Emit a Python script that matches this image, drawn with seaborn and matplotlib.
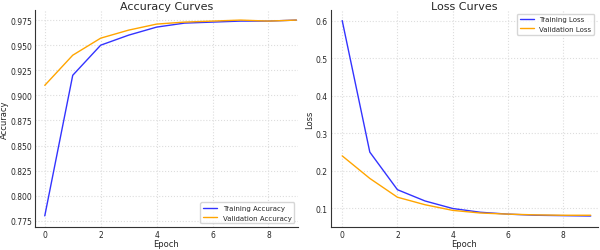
import numpy as np
import pandas as pd
import matplotlib
matplotlib.use("Agg")
import matplotlib.pyplot as plt
import seaborn as sns

epochs = list(range(10))
train_acc = [0.780, 0.920, 0.950, 0.960, 0.968, 0.972, 0.973, 0.974, 0.974, 0.975]
val_acc = [0.910, 0.940, 0.957, 0.965, 0.971, 0.973, 0.974, 0.975, 0.974, 0.975]
train_loss = [0.600, 0.250, 0.150, 0.120, 0.100, 0.090, 0.085, 0.082, 0.081, 0.080]
val_loss = [0.240, 0.180, 0.130, 0.110, 0.095, 0.088, 0.085, 0.083, 0.082, 0.082]

sns.set_theme(style="whitegrid")
plt.rcParams.update({
    "font.family": ["DejaVu Sans"],
    "axes.edgecolor": "#333333",
    "grid.color": "#dddddd",
    "grid.linestyle": ":",
    "grid.linewidth": 0.8,
})

fig, (ax1, ax2) = plt.subplots(1, 2, figsize=(6, 2.51), dpi=100)
ax1.set_position([0.0583, 0.092, 0.438, 0.864])
ax2.set_position([0.551, 0.092, 0.445, 0.864])

# accuracy
sns.lineplot(x=epochs, y=train_acc, ax=ax1, color="#3333ff", linewidth=1, label="Training Accuracy")
sns.lineplot(x=epochs, y=val_acc, ax=ax1, color="#ffa500", linewidth=1, label="Validation Accuracy")
ax1.set_title("Accuracy Curves", fontsize=8, pad=1)
ax1.set_ylabel("Accuracy", fontsize=6, labelpad=1)
ax1.set_yticks([0.775, 0.800, 0.825, 0.850, 0.875, 0.900, 0.925, 0.950, 0.975])
ax1.set_ylim(0.769, 0.985)
ax1.set_xlim(-0.35, 9.05)
ax1.legend(loc="lower right", fontsize=5)

# loss
sns.lineplot(x=epochs, y=train_loss, ax=ax2, color="#3333ff", linewidth=1, label="Training Loss")
sns.lineplot(x=epochs, y=val_loss, ax=ax2, color="#ffa500", linewidth=1, label="Validation Loss")
ax2.set_title("Loss Curves", fontsize=8, pad=1)
ax2.set_ylabel("Loss", fontsize=6, labelpad=1)
ax2.set_ylim(0.051, 0.628)
ax2.set_xlim(-0.42, 9.25)
ax2.legend(loc="upper right", fontsize=5)

for ax in (ax1, ax2):
    ax.set_xticks([0, 2, 4, 6, 8])
    ax.set_xlabel("Epoch", fontsize=6, labelpad=0.5)
    ax.tick_params(labelsize=5.5, length=1.5, pad=0.5)
    sns.despine(ax=ax)
    for s in ("left", "bottom"):
        ax.spines[s].set_linewidth(0.8)

fig.savefig("out.png", dpi=100)
